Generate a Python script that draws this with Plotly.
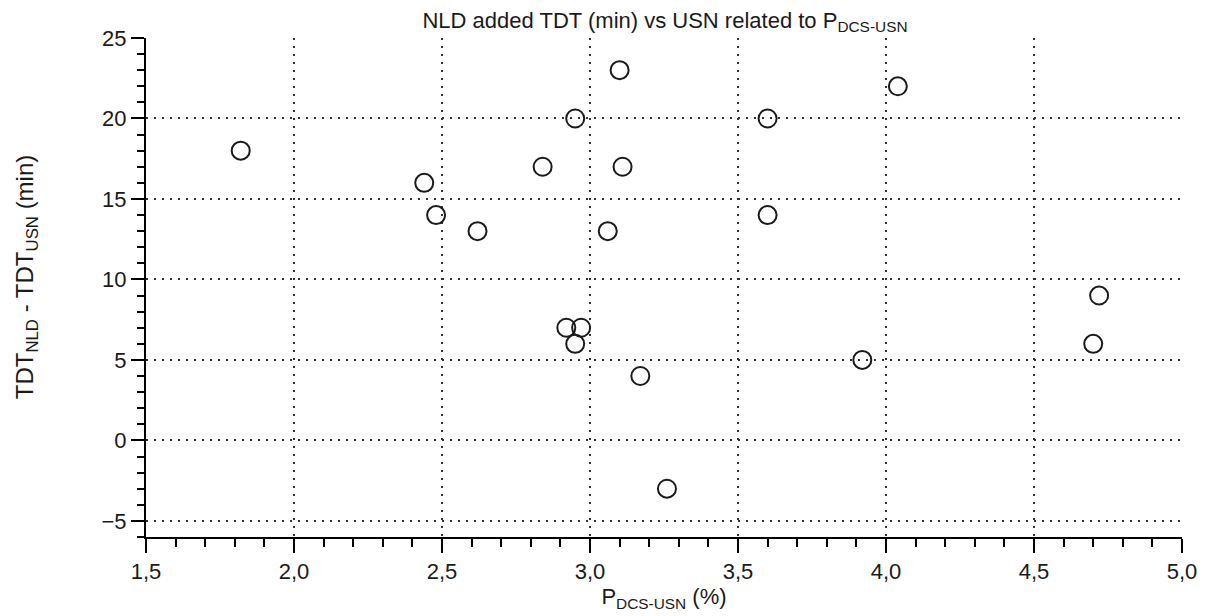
import plotly.graph_objects as go

# P_DCS-USN (%) and added total decompression time NLD vs USN (min)
p_dcs_usn = [1.82, 2.44, 2.48, 2.62, 2.84, 3.10, 2.95, 3.11, 3.06, 3.60,
             3.60, 4.04, 2.92, 2.97, 2.95, 3.17, 3.92, 3.26, 4.72, 4.70]
tdt_diff = [18, 16, 14, 13, 17, 23, 20, 17, 13, 20,
            14, 22, 7, 7, 6, 4, 5, -3, 9, 6]

x_ticks = [1.5, 2.0, 2.5, 3.0, 3.5, 4.0, 4.5, 5.0]
y_ticks = [-5, 0, 5, 10, 15, 20, 25]

FONT = "Liberation Sans, Arial, Helvetica, sans-serif"
INK = "#1a1a1a"
FS = 22

fig = go.Figure(
    go.Scatter(
        x=p_dcs_usn,
        y=tdt_diff,
        mode="markers",
        marker=dict(symbol="circle-open", size=18, color=INK,
                    line=dict(width=2, color=INK)),
        hoverinfo="x+y",
    )
)

grid = dict(showgrid=True, gridcolor="#333333", griddash="2px,6px", gridwidth=1.5,
            zeroline=False, showline=True, linecolor="black", linewidth=2,
            ticks="outside", tickcolor="black", tickwidth=2,
            tickfont=dict(family=FONT, size=FS, color=INK))

fig.update_xaxes(
    range=[1.5, 5.0], tickvals=x_ticks, tickformat=".1f", ticklen=14,
    minor=dict(dtick=0.1, ticks="outside", ticklen=8, tickwidth=2,
               tickcolor="black", showgrid=False),
    title=dict(text="P<sub>DCS-USN</sub> (%)", standoff=4,
               font=dict(family=FONT, size=FS, color=INK)),
    **grid,
)
fig.update_yaxes(
    range=[-6, 25], tickvals=y_ticks, ticklen=13,
    minor=dict(dtick=1, ticks="outside", ticklen=7, tickwidth=2,
               tickcolor="black", showgrid=False),
    **grid,
)

# Rotated y-axis title, placed as a paper-referenced annotation
fig.add_annotation(
    text="TDT<sub>NLD</sub> - TDT<sub>USN</sub> (min)",
    xref="paper", yref="paper", x=-0.1156, y=0.521,
    xanchor="center", yanchor="middle", textangle=-90, showarrow=False,
    font=dict(family=FONT, size=24, color=INK),
)

fig.update_layout(
    width=1209,
    height=616,
    separators=", ",
    showlegend=False,
    plot_bgcolor="white",
    paper_bgcolor="white",
    margin=dict(l=146, r=25, t=38, b=79),
    title=dict(text="NLD added TDT (min) vs USN related to P<sub>DCS-USN</sub>",
               x=(146 + 1184) / 2 / 1209, xanchor="center",
               y=1 - 20 / 616, yanchor="middle",
               font=dict(family=FONT, size=FS, color=INK)),
)

fig.write_html("out.html")
